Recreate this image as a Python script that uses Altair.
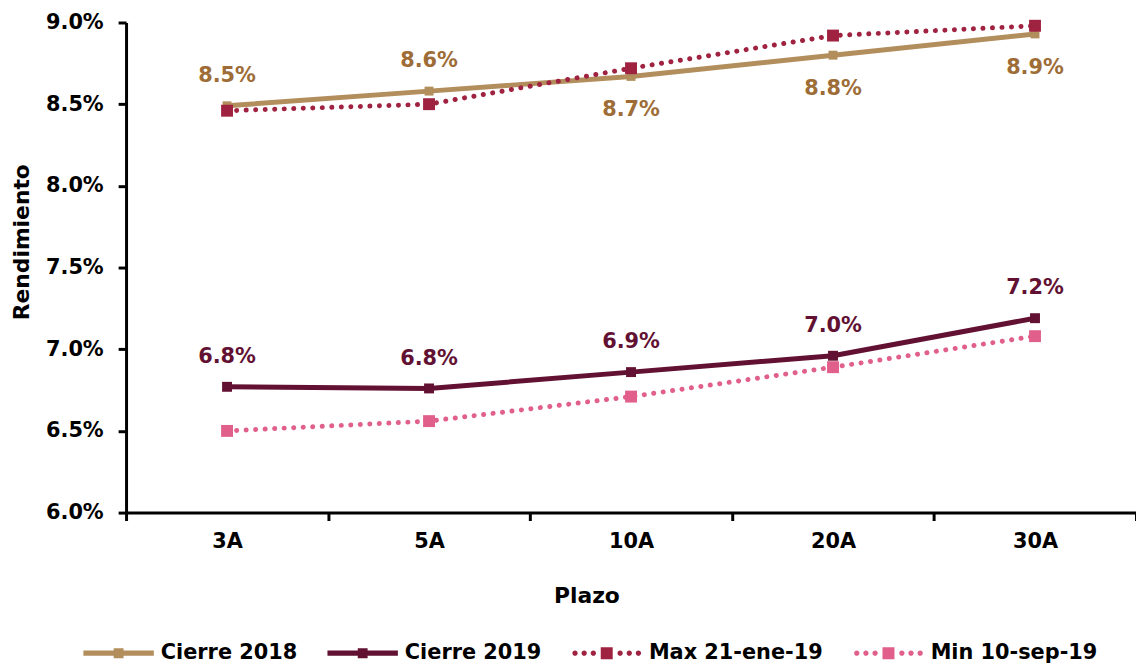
import altair as alt
import pandas as pd

# ---- data ----
plazos = ["3A", "5A", "10A", "20A", "30A"]
series = ["Cierre 2018", "Cierre 2019", "Max 21-ene-19", "Min 10-sep-19"]
cierre_2018 = [8.49, 8.58, 8.67, 8.80, 8.93]
cierre_2019 = [6.77, 6.76, 6.86, 6.96, 7.19]
max_21_ene_19 = [8.46, 8.50, 8.72, 8.92, 8.98]
min_10_sep_19 = [6.50, 6.56, 6.71, 6.89, 7.08]
pos_etiqueta_2018 = ["arriba", "arriba", "abajo", "abajo", "abajo"]
pos_etiqueta_2019 = ["arriba", "arriba", "arriba", "arriba", "arriba"]
y_ticks = [6.0, 6.5, 7.0, 7.5, 8.0, 8.5, 9.0]

# ---- styles ----
FONT = "DejaVu Sans"
line_colors = ["#B38E5D", "#621132", "#9F2241", "#E0608B"]
label_colors = {"Cierre 2018": "#9E6C36", "Cierre 2019": "#621132"}
marker_sizes = [81, 100, 144, 144]
dotted = [False, False, True, True]


def circle(cx, r):
    return f"M{cx - r:.3f},0a{r},{r} 0 1,0 {2 * r},0a{r},{r} 0 1,0 {-2 * r},0Z"


solid_path = "M-1,-0.075H1V0.075H-1Z M-0.14,-0.14H0.14V0.14H-0.14Z"
dot_path = " ".join(circle(c, 0.075) for c in [-0.9, -0.64, -0.38, 0.38, 0.64, 0.9]) + \
    " M-0.17,-0.17H0.17V0.17H-0.17Z"
legend_paths = [solid_path, solid_path, dot_path, dot_path]

values = [cierre_2018, cierre_2019, max_21_ene_19, min_10_sep_19]
rows = []
for s, vals in zip(series, values):
    for i, (p, v) in enumerate(zip(plazos, vals)):
        pos = ""
        if s == "Cierre 2018":
            pos = pos_etiqueta_2018[i]
        elif s == "Cierre 2019":
            pos = pos_etiqueta_2019[i]
        rows.append({"plazo": p, "serie": s, "valor": v, "pos": pos})
df = pd.DataFrame(rows)

x_enc = alt.X(
    "plazo:N",
    sort=plazos,
    bandPosition=0.5,
    scale=alt.Scale(type="band", domain=plazos, paddingInner=0, paddingOuter=0),
    axis=alt.Axis(
        title="Plazo", tickBand="extent", labelAngle=0,
        labelFont=FONT, labelFontSize=21, labelFontWeight="bold", labelColor="black",
        labelPadding=10, tickSize=8, tickWidth=3, tickColor="black",
        domainColor="black", domainWidth=3,
        titleFont=FONT, titleFontSize=22, titleFontWeight="bold", titleColor="black",
        titleX=464, titleY=84, titleBaseline="middle", titleAlign="center",
    ),
)
y_enc = alt.Y(
    "valor:Q",
    scale=alt.Scale(domain=[6, 9], nice=False, zero=False),
    axis=alt.Axis(
        values=y_ticks, labelExpr="format(datum.value, '.1f') + '%'", grid=False,
        labelFont=FONT, labelFontSize=21, labelFontWeight="bold", labelColor="black",
        labelPadding=15, tickSize=8, tickWidth=3, tickColor="black",
        domainColor="black", domainWidth=3,
        title="Rendimiento", titleFont=FONT, titleFontSize=22, titleFontWeight="bold",
        titleColor="black", titleAngle=270, titleX=-105, titleY=221,
        titleBaseline="middle", titleAlign="center",
    ),
)

base = alt.Chart(df)
layers = []
for s, col, msize, dot in zip(series, line_colors, marker_sizes, dotted):
    if dot:
        ln = base.mark_line(color=col, strokeWidth=5, strokeDash=[0.1, 9.5], strokeCap="round")
    else:
        ln = base.mark_line(color=col, strokeWidth=5)
    layers.append(ln.encode(x=x_enc, y=y_enc).transform_filter(alt.datum.serie == s))
    layers.append(
        base.mark_point(shape="square", filled=True, size=msize, color=col, opacity=1)
        .encode(x=x_enc, y=y_enc)
        .transform_filter(alt.datum.serie == s)
    )

for s in ["Cierre 2018", "Cierre 2019"]:
    for pos, dy in [("arriba", -30), ("abajo", 34)]:
        layers.append(
            base.mark_text(dy=dy, font=FONT, fontSize=21, fontWeight="bold",
                           color=label_colors[s], baseline="middle", align="center")
            .encode(x=x_enc, y=y_enc, text="etiqueta:N")
            .transform_filter((alt.datum.serie == s) & (alt.datum.pos == pos))
            .transform_calculate(etiqueta="format(datum.valor, '.1f') + '%'")
        )

legend_def = alt.Legend(
    title=None, orient="none", legendX=-43, legendY=600, direction="horizontal",
    symbolSize=5041, symbolStrokeWidth=0, symbolOpacity=1, labelFont=FONT, labelFontSize=21,
    labelFontWeight="bold", labelColor="black", labelOffset=7, columnPadding=30,
    labelLimit=400, padding=0,
)
legend_layer = base.mark_point(filled=True, clip=True, size=10, opacity=1).encode(
    x=alt.value(-500), y=alt.value(-500),
    color=alt.Color("serie:N", scale=alt.Scale(domain=series, range=line_colors), legend=legend_def),
    shape=alt.Shape("serie:N", scale=alt.Scale(domain=series, range=legend_paths), legend=legend_def),
)
layers.append(legend_layer)

chart = (
    alt.layer(*layers)
    .properties(
        width=1018, height=494,
        autosize=alt.AutoSizeParams(type="none"),
        padding={"left": 119, "top": 12, "right": 0, "bottom": 150},
    )
    .configure_view(strokeWidth=0)
)

chart.save("out.html", embed_options={"renderer": "svg", "actions": False})
